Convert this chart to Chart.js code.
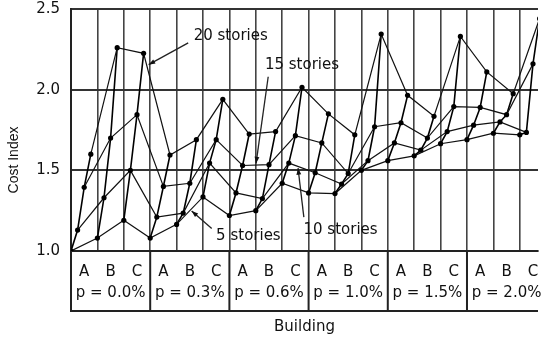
<!DOCTYPE html>
<html>
<head>
<meta charset="utf-8">
<script src="https://cdn.jsdelivr.net/npm/chart.js@4.4.0/dist/chart.umd.min.js"></script>
<style>
  html, body { margin: 0; padding: 0; background: #fff; }
</style>
</head>
<body>
<canvas id="costChart" width="542" height="339"></canvas>
<script>
const groups = ['0.0%', '0.3%', '0.6%', '1.0%', '1.5%', '2.0%'];
const buildings = ['A', 'B', 'C'];
const stories = ['5 stories', '10 stories', '15 stories', '20 stories'];
const yTicks = [1.0, 1.5, 2.0, 2.5];

// cost index per building (A,B,C for each p), one array per story count
const cost5  = [1.00, 1.08, 1.19, 1.08, 1.165, 1.335, 1.22, 1.25, 1.42, 1.36, 1.356, 1.50, 1.56, 1.59, 1.665, 1.69, 1.73, 1.72];
const cost10 = [1.13, 1.33, 1.50, 1.21, 1.235, 1.545, 1.36, 1.325, 1.545, 1.485, 1.415, 1.56, 1.67, 1.625, 1.74, 1.78, 1.80, 1.735];
const cost15 = [1.395, 1.70, 1.845, 1.40, 1.42, 1.69, 1.53, 1.535, 1.715, 1.67, 1.48, 1.77, 1.795, 1.70, 1.895, 1.89, 1.845, 2.16];
const cost20 = [1.60, 2.26, 2.225, 1.595, 1.69, 1.94, 1.725, 1.74, 2.015, 1.85, 1.72, 2.345, 1.965, 1.835, 2.33, 2.11, 1.975, 2.44];
const costByStory = [cost5, cost10, cost15, cost20];

// callout labels: text centre, leader start, arrow tip (data units)
const notes = [
  { text: '20 stories', at: [6.05, 2.33], from: [4.44, 2.29], to: [2.94, 2.155] },
  { text: '15 stories', at: [8.75, 2.15], from: [7.47, 2.08], to: [7.01, 1.543] },
  { text: '5 stories',  at: [6.72, 1.09], from: [5.33, 1.14], to: [4.57, 1.248] },
  { text: '10 stories', at: [10.21, 1.13], from: [8.82, 1.21], to: [8.6, 1.514] }
];

const nCols = groups.length * buildings.length;
const storyStep = 0.25;

const storySets = costByStory.map((vals, k) => ({
  label: stories[k],
  data: vals.map((v, j) => ({ x: j + k * storyStep, y: v })),
  borderColor: '#111',
  borderWidth: 1.2,
  pointRadius: 2.6,
  pointBackgroundColor: '#000',
  pointBorderWidth: 0,
  tension: 0
}));

const buildingPts = [];
for (let j = 0; j < nCols; j++) {
  costByStory.forEach((vals, k) => buildingPts.push({ x: j + k * storyStep, y: vals[j] }));
  buildingPts.push({ x: j + 0.9, y: null });
}

const framePlugin = {
  id: 'frame',
  afterDraw(chart) {
    const { ctx, chartArea, scales: { x, y } } = chart;
    const boxBottom = chartArea.bottom + 60;
    ctx.save();
    ctx.strokeStyle = '#222';
    ctx.lineWidth = 2;
    ctx.beginPath();
    for (let g = 0; g <= groups.length; g++) {
      const px = x.getPixelForValue(g * buildings.length);
      ctx.moveTo(px, chartArea.bottom);
      ctx.lineTo(px, boxBottom);
    }
    ctx.moveTo(chartArea.left - 1, boxBottom);
    ctx.lineTo(chartArea.right, boxBottom);
    ctx.stroke();

    // y title, centred on plot + label box
    ctx.save();
    ctx.translate(14, (chartArea.top + boxBottom) / 2);
    ctx.rotate(-Math.PI / 2);
    ctx.fillStyle = '#111';
    ctx.font = '14px "Liberation Sans", Arial, sans-serif';
    ctx.textAlign = 'center';
    ctx.textBaseline = 'middle';
    ctx.fillText('Cost Index', 0, 0);
    ctx.restore();

    // callouts
    ctx.font = '15px "DejaVu Sans", sans-serif';
    ctx.textAlign = 'center';
    ctx.textBaseline = 'middle';
    ctx.fillStyle = '#111';
    ctx.lineWidth = 1.3;
    notes.forEach(n => {
      const tx = x.getPixelForValue(n.at[0]), ty = y.getPixelForValue(n.at[1]);
      const x0 = x.getPixelForValue(n.from[0]), y0 = y.getPixelForValue(n.from[1]);
      const x1 = x.getPixelForValue(n.to[0]), y1 = y.getPixelForValue(n.to[1]);
      ctx.fillText(n.text, tx, ty);
      ctx.beginPath();
      ctx.moveTo(x0, y0);
      ctx.lineTo(x1, y1);
      ctx.stroke();
      const a = Math.atan2(y1 - y0, x1 - x0);
      ctx.beginPath();
      ctx.moveTo(x1, y1);
      ctx.lineTo(x1 - 7 * Math.cos(a - 0.35), y1 - 7 * Math.sin(a - 0.35));
      ctx.lineTo(x1 - 7 * Math.cos(a + 0.35), y1 - 7 * Math.sin(a + 0.35));
      ctx.closePath();
      ctx.fill();
    });
    ctx.restore();
  }
};

new Chart(document.getElementById('costChart'), {
  type: 'line',
  data: {
    datasets: [
      ...storySets,
      {
        label: 'buildings',
        data: buildingPts,
        borderColor: '#000',
        borderWidth: 1.6,
        pointRadius: 0,
        spanGaps: false,
        tension: 0
      }
    ]
  },
  options: {
    responsive: false,
    animation: false,
    devicePixelRatio: 1,
    layout: { padding: { left: 0, right: 0, top: 9, bottom: 0 } },
    plugins: {
      legend: { display: false },
      tooltip: { enabled: false }
    },
    scales: {
      x: {
        type: 'linear',
        min: 0,
        max: 17.69,
        afterBuildTicks: s => {
          s.ticks = Array.from({ length: nCols * 2 }, (_, i) => ({ value: i / 2 }));
        },
        afterFit: s => { s.paddingLeft = 0; s.paddingRight = 0; },
        ticks: {
          autoSkip: false,
          maxRotation: 0,
          padding: 11,
          color: '#111',
          font: { family: 'DejaVu Sans', size: 15, lineHeight: 1.4 },
          callback: v => {
            if (Number.isInteger(v)) return '';
            const j = Math.floor(v);
            const b = buildings[j % 3];
            return j % 3 === 1 ? [b, 'p = ' + groups[Math.floor(j / 3)]] : b;
          }
        },
        grid: {
          color: c => (c.tick && Number.isInteger(c.tick.value)) ? '#444' : 'rgba(0,0,0,0)',
          lineWidth: 1.6,
          drawTicks: false
        },
        border: { color: '#222', width: 2 },
        title: {
          display: true,
          text: 'Building',
          color: '#111',
          font: { family: 'DejaVu Sans', size: 15 },
          padding: { top: 3, bottom: 3 }
        }
      },
      y: {
        min: 1,
        max: 2.5,
        afterBuildTicks: s => { s.ticks = yTicks.map(v => ({ value: v })); },
        afterFit: s => { s.width = 71; s.paddingTop = 0; s.paddingBottom = 0; },
        ticks: {
          padding: 11,
          color: '#111',
          font: { family: 'DejaVu Sans', size: 15 },
          callback: v => v.toFixed(1)
        },
        grid: { color: '#333', lineWidth: 2, drawTicks: false },
        border: { color: '#222', width: 2 }
      }
    }
  },
  plugins: [framePlugin]
});
</script>
</body>
</html>
